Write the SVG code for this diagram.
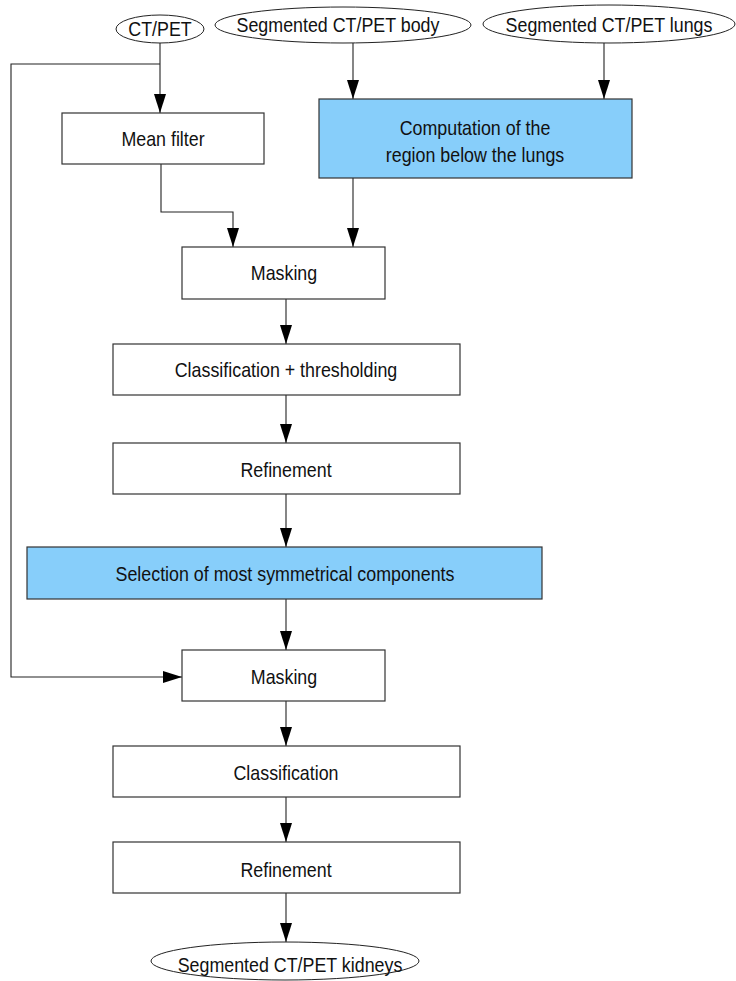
<svg xmlns="http://www.w3.org/2000/svg" width="736" height="981" viewBox="0 0 736 981">
  <style>
    .box { fill: #ffffff; stroke: #333333; stroke-width: 1.2; }
    .hl { fill: #87cefa; stroke: #333333; stroke-width: 1.2; }
    .term { fill: #ffffff; stroke: #222222; stroke-width: 1; }
    .lbl { font-family: "Liberation Sans", Arial, Helvetica, sans-serif; font-size: 21px; fill: #111111; text-anchor: middle; }
    .edge { fill: none; stroke: #222222; stroke-width: 1.1; marker-end: url(#arrow); }
  </style>
  <defs>
    <marker id="arrow" markerUnits="userSpaceOnUse" markerWidth="20" markerHeight="12" refX="19" refY="6" orient="auto">
      <path d="M0,0 L19,6 L0,12 Z" fill="#000000"/>
    </marker>
  </defs>
  <rect width="736" height="981" fill="#ffffff"/>

  <!-- connectors -->
  <g id="connectors">
    <path class="edge" d="M160,43 V113"/>
    <path class="edge" d="M160,64 H11 V677 H182"/>
    <path class="edge" d="M353,43 V99"/>
    <path class="edge" d="M604,43 V99"/>
    <path class="edge" d="M161,164 V212 H233 V247"/>
    <path class="edge" d="M353,178 V247"/>
    <path class="edge" d="M286,299 V344"/>
    <path class="edge" d="M286,395 V443"/>
    <path class="edge" d="M286,494 V547"/>
    <path class="edge" d="M286,599 V650"/>
    <path class="edge" d="M286,701 V746"/>
    <path class="edge" d="M286,797 V842"/>
    <path class="edge" d="M286,893 V942"/>
  </g>

  <!-- inputs (labels use a horizontally condensed sans) -->
  <g id="ctpet">
    <ellipse class="term" cx="160" cy="29" rx="44" ry="14"/>
    <text class="lbl" transform="translate(160,36) scale(0.85,1)">CT/PET</text>
  </g>
  <g id="body">
    <ellipse class="term" cx="343" cy="25" rx="128" ry="18"/>
    <text class="lbl" transform="translate(338,32) scale(0.85,1)">Segmented CT/PET body</text>
  </g>
  <g id="lungs">
    <ellipse class="term" cx="609" cy="24" rx="126" ry="19"/>
    <text class="lbl" transform="translate(609,32) scale(0.85,1)">Segmented CT/PET lungs</text>
  </g>

  <!-- processing steps -->
  <g id="mean-filter">
    <rect class="box" x="62" y="113" width="202" height="51"/>
    <text class="lbl" transform="translate(163,146) scale(0.85,1)">Mean filter</text>
  </g>
  <g id="below-lungs">
    <rect class="hl" x="319" y="99" width="313" height="79"/>
    <text class="lbl" transform="translate(475,135) scale(0.85,1)">Computation of the</text>
    <text class="lbl" transform="translate(475,162) scale(0.85,1)">region below the lungs</text>
  </g>
  <g id="masking-1">
    <rect class="box" x="182" y="247" width="203" height="52"/>
    <text class="lbl" transform="translate(284,280) scale(0.85,1)">Masking</text>
  </g>
  <g id="class-thresh">
    <rect class="box" x="113" y="344" width="347" height="51"/>
    <text class="lbl" transform="translate(286,377) scale(0.85,1)">Classification + thresholding</text>
  </g>
  <g id="refinement-1">
    <rect class="box" x="113" y="443" width="347" height="51"/>
    <text class="lbl" transform="translate(286,477) scale(0.85,1)">Refinement</text>
  </g>
  <g id="symmetry">
    <rect class="hl" x="27" y="547" width="515" height="52"/>
    <text class="lbl" transform="translate(285,581) scale(0.85,1)">Selection of most symmetrical components</text>
  </g>
  <g id="masking-2">
    <rect class="box" x="182" y="650" width="203" height="51"/>
    <text class="lbl" transform="translate(284,684) scale(0.85,1)">Masking</text>
  </g>
  <g id="classification">
    <rect class="box" x="113" y="746" width="347" height="51"/>
    <text class="lbl" transform="translate(286,780) scale(0.85,1)">Classification</text>
  </g>
  <g id="refinement-2">
    <rect class="box" x="113" y="842" width="347" height="51"/>
    <text class="lbl" transform="translate(286,877) scale(0.85,1)">Refinement</text>
  </g>

  <!-- output -->
  <g id="kidneys">
    <ellipse class="term" cx="285" cy="961" rx="134" ry="19"/>
    <text class="lbl" transform="translate(290,972) scale(0.85,1)">Segmented CT/PET kidneys</text>
  </g>
</svg>
